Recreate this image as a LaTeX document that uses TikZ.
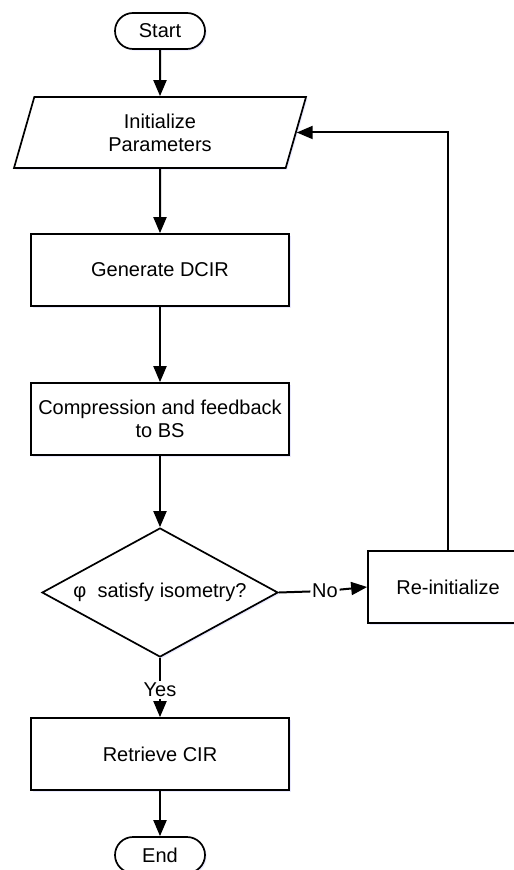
\documentclass[tikz,border=0pt]{standalone}
\usepackage{fontspec}
\setmainfont{Liberation Sans}
\usetikzlibrary{shapes.geometric, arrows.meta, shadows}
\begin{document}
\begin{tikzpicture}[x=0.5pt, y=-0.5pt, font=\fontsize{10pt}{11.5pt}\selectfont,
        every node/.style={line width=0.85pt, align=center, inner sep=1pt},
        shade/.style={drop shadow={shadow xshift=0.8pt, shadow yshift=-0.8pt, fill=blue!25, opacity=0.35}},
        term/.style={draw, fill=white, rounded corners=9pt, minimum width=45pt, minimum height=18pt, shade},
        io/.style={draw, fill=white, trapezium, trapezium left angle=64, trapezium right angle=116, trapezium stretches body, minimum width=146pt, minimum height=35.5pt, shade},
        proc/.style={draw, fill=white, minimum width=129pt, minimum height=36pt, shade},
        decide/.style={draw, fill=white, diamond, aspect=1.83, inner sep=0pt, minimum width=118pt, minimum height=64.5pt, shade},
        flow/.style={-{Triangle[length=8pt, width=6.5pt]}, line width=1pt}]
    \useasboundingbox (0,0) rectangle (513,870);
    \node[term] (start) at (160, 31) {Start};
    \node[io] (init) at (160, 132.5) {Initialize\\Parameters};
    \node[proc] (gen) at (160, 270) {Generate DCIR};
    \node[proc] (comp) at (160, 419) {Compression and feedback\\to BS};
    \node[decide] (dec) at (160, 592.5) {φ~~satisfy isometry?};
    \node[proc, minimum width=80pt] (reinit) at (448, 587) {Re-initialize};
    \node[proc] (ret) at (160, 754) {Retrieve CIR};
    \node[term] (end) at (160, 855) {End};
    \node[inner sep=0.5pt] (yes) at (160, 690) {Yes};
    \node[inner sep=0.5pt] (no) at (325, 591) {No};
    \draw[flow] (start) -- (init);
    \draw[flow] (init) -- (gen);
    \draw[flow] (gen) -- (comp);
    \draw[flow] (comp) -- (dec);
    \draw[line width=1pt] (dec.east) -- (no);
    \draw[flow] (no) -- (reinit.west);
    \draw[flow] (reinit.north) |- (init.east);
    \draw[line width=1pt] (dec.south) -- (yes);
    \draw[flow] (yes) -- (ret);
    \draw[flow] (ret) -- (end);
\end{tikzpicture}
\end{document}
